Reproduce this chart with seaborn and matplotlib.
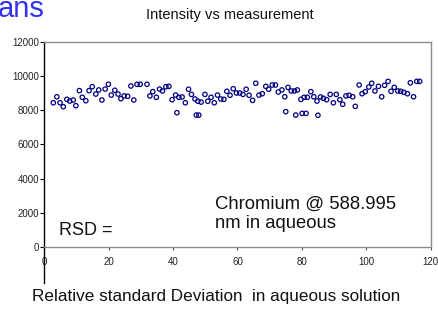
import pandas as pd
import matplotlib.pyplot as plt
import seaborn as sns

# -------------------------------
# DATA
# -------------------------------
measurement = [
    2.8, 3.9, 4.9, 5.9, 7.0, 7.9, 9.0, 9.8, 10.9, 11.8,
    12.9, 13.9, 14.9, 16.0, 16.9, 17.9, 18.9, 19.9, 20.8, 21.9,
    22.9, 23.8, 24.8, 25.9, 26.9, 27.8, 28.8, 29.8, 31.9, 32.8,
    33.7, 34.8, 35.8, 36.7, 37.8, 38.7, 39.7, 40.8, 41.2, 41.8,
    42.8, 43.8, 44.8, 45.7, 46.8, 47.2, 48.0, 47.7, 48.7, 49.9,
    50.8, 51.8, 52.8, 53.8, 54.8, 55.8, 56.7, 57.7, 58.7, 59.7,
    60.7, 61.7, 62.7, 63.6, 64.7, 65.7, 66.7, 67.7, 68.8, 69.7,
    70.8, 71.8, 72.7, 73.8, 74.7, 75.0, 75.7, 76.7, 77.7, 78.1,
    78.6, 79.7, 80.1, 80.7, 81.3, 81.7, 82.8, 83.7, 84.7, 85.0,
    85.8, 86.7, 87.7, 88.8, 89.8, 90.7, 91.8, 92.7, 93.7, 94.7,
    95.8, 96.6, 97.8, 98.7, 99.7, 100.8, 101.7, 102.7, 103.8, 104.8,
    105.7, 106.8, 107.7, 108.7, 109.8, 110.7, 111.7, 112.8, 113.7, 114.7,
    115.7, 116.6,
]
intensity = [
    8430, 8780, 8430, 8200, 8630, 8530, 8590, 8260, 9140, 8750,
    8550, 9140, 9370, 8940, 9180, 8590, 9230, 9510, 8880, 9160,
    8940, 8670, 8830, 8810, 9410, 8590, 9510, 9510, 9510, 8830,
    9080, 8750, 9230, 9120, 9370, 9390, 8610, 8880, 7850, 8750,
    8770, 8430, 9220, 8920, 8650, 7710, 7710, 8520, 8470, 8920,
    8520, 8750, 8430, 8880, 8650, 8630, 9100, 8870, 9250, 9000,
    9000, 8920, 9220, 8870, 8570, 9570, 8880, 8960, 9390, 9220,
    9470, 9470, 9060, 9180, 8780, 7910, 9330, 9120, 9120, 7710,
    9180, 8630, 7810, 8750, 7810, 8750, 9080, 8780, 8530, 7700,
    8770, 8690, 8610, 8920, 8430, 8920, 8610, 8340, 8830, 8870,
    8780, 8220, 9470, 8960, 9080, 9350, 9570, 9120, 9390, 8780,
    9450, 9680, 9100, 9330, 9120, 9100, 9040, 8960, 9600, 8780,
    9680, 9680,
]

x_ticks = [0, 20, 40, 60, 80, 100, 120]
y_ticks = [0, 2000, 4000, 6000, 8000, 10000, 12000]

df = pd.DataFrame({'measurement': measurement, 'intensity': intensity})

# -------------------------------
# STYLE
# -------------------------------
sns.set_style('white')
plt.rcParams['font.family'] = ['Liberation Sans', 'DejaVu Sans']

fig = plt.figure(figsize=(4.39, 3.09), dpi=100)
ax = fig.add_axes([0.1009, 0.084, 0.880, 0.781])

sns.scatterplot(data=df, x='measurement', y='intensity', ax=ax,
                marker='o', s=10, facecolors='none',
                edgecolor='#000080', linewidth=0.9)

ax.set_xlim(0, 120)
ax.set_ylim(-2111, 12000)
ax.set_xticks(x_ticks)
ax.set_yticks(y_ticks)
ax.set_xlabel('')
ax.set_ylabel('')

# spines: black left axis, grey frame, x axis sitting at zero
ax.spines['left'].set_color('black')
ax.spines['left'].set_linewidth(1.0)
ax.spines['bottom'].set_position(('data', 0))
ax.spines['bottom'].set_color('#8c8c8c')
ax.spines['top'].set_color('#8c8c8c')
ax.spines['right'].set_color('#8c8c8c')
ax.spines['right'].set_bounds(0, 12000)
for side in ['bottom', 'top', 'right']:
    ax.spines[side].set_linewidth(1.0)

ax.tick_params(axis='y', left=True, length=3, width=0.8, color='black',
               labelsize=7, pad=0.5, labelcolor='#222222')
ax.tick_params(axis='x', bottom=True, length=2, width=0.8, color='#555555',
               labelsize=7, pad=5, labelcolor='#222222')

# text labels (baseline of the last line)
ax.text(53, 1105, 'Chromium @ 588.995\nnm in aqueous', fontsize=13.3,
        color='#111111', va='baseline', linespacing=1.15)
ax.text(4.6, 700, 'RSD =', fontsize=13, color='#111111', va='baseline')

fig.text(0.524, 0.951, 'Intensity vs measurement', ha='center', va='center',
         fontsize=10.5, color='#111111')
fig.text(0.492, 0.039, 'Relative standard Deviation  in aqueous solution',
         ha='center', va='center', fontsize=12.3, color='#111111')
fig.text(-0.004, 0.945, 'ans', ha='left', va='baseline', fontsize=21,
         color='#3333ee')

plt.savefig('out.png', dpi=100)
